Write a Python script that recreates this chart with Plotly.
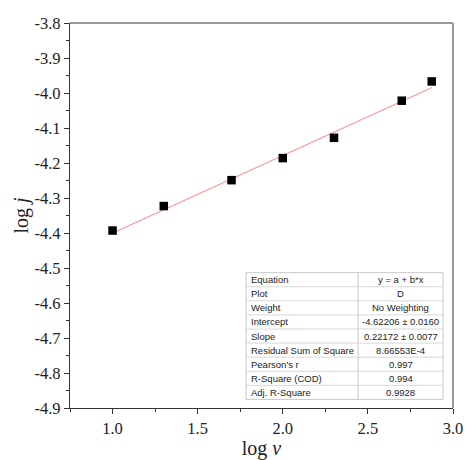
import plotly.graph_objects as go

log_v = [1.0, 1.301, 1.699, 2.0, 2.301, 2.699, 2.875]
log_j = [-4.393, -4.323, -4.249, -4.186, -4.128, -4.022, -3.967]

intercept = -4.62206
slope = 0.22172
fit_x = [1.0, 2.875]
fit_y = [intercept + slope * x for x in fit_x]

table_labels = ["Equation", "Plot", "Weight", "Intercept", "Slope",
                "Residual Sum of Square", "Pearson's r", "R-Square (COD)", "Adj. R-Square"]
table_values = ["y = a + b*x", "D", "No Weighting", "-4.62206 ± 0.0160", "0.22172 ± 0.0077",
                "8.66553E-4", "0.997", "0.994", "0.9928"]

x_ticks = [1.0, 1.5, 2.0, 2.5, 3.0]
y_ticks = [-3.8, -3.9, -4.0, -4.1, -4.2, -4.3, -4.4, -4.5, -4.6, -4.7, -4.8, -4.9]

# plot-area geometry in pixels (for paper coordinate conversion)
PL, PR, PT, PB = 70, 453, 23, 408.5
def px(x):
    return (x - PL) / (PR - PL)
def py(y):
    return (PB - y) / (PB - PT)

fig = go.Figure()
fig.add_trace(go.Scatter(x=fit_x, y=fit_y, mode="lines",
                         line=dict(color="rgb(255,130,130)", width=1), showlegend=False))
fig.add_trace(go.Scatter(x=log_v, y=log_j, mode="markers",
                         marker=dict(symbol="square", size=8.5, color="black"), showlegend=False))

# stats table drawn with shapes + annotations
T_L, T_D, T_R, T_T, ROW = 246, 358, 443, 273, 14.1
n = len(table_labels)
T_B = T_T + ROW * n
shapes = [
    dict(type="rect", xref="paper", yref="paper", x0=px(T_L), x1=px(T_R), y0=py(T_B), y1=py(T_T),
         fillcolor="white", line=dict(color="#c8c8c8", width=1), layer="above"),
    dict(type="line", xref="paper", yref="paper", x0=px(T_D), x1=px(T_D), y0=py(T_B), y1=py(T_T),
         line=dict(color="#c8c8c8", width=1), layer="above"),
]
for i in range(1, n):
    yy = py(T_T + ROW * i)
    shapes.append(dict(type="line", xref="paper", yref="paper", x0=px(T_L), x1=px(T_R), y0=yy, y1=yy,
                       line=dict(color="#d8d8d8", width=1), layer="above"))
shapes += [
    dict(type="line", xref="paper", yref="paper", x0=0, x1=1, y0=1, y1=1,
         line=dict(color="#999999", width=2)),
    dict(type="line", xref="paper", yref="paper", x0=1, x1=1, y0=0, y1=1,
         line=dict(color="#999999", width=2)),
]

tfont = dict(family="Liberation Sans, Arial", size=9.5, color="#222")
annotations = []
for i, (lab, val) in enumerate(zip(table_labels, table_values)):
    yc = py(T_T + ROW * (i + 0.5))
    annotations.append(dict(x=px(T_L + 3), y=yc, xref="paper", yref="paper", text=lab,
                            showarrow=False, xanchor="left", yanchor="middle", font=tfont))
    annotations.append(dict(x=px((T_D + T_R) / 2), y=yc, xref="paper", yref="paper", text=val,
                            showarrow=False, xanchor="center", yanchor="middle", font=tfont))

serif = "Liberation Serif"
axis_font = dict(family=serif, size=16.5, color="#222")
title_font = dict(family=serif, size=20, color="#222")
fig.update_layout(
    width=467, height=460,
    margin=dict(l=PL, r=467 - PR, t=PT, b=460 - PB),
    paper_bgcolor="white", plot_bgcolor="white",
    xaxis=dict(range=[0.75, 3.0], tickvals=x_ticks, ticktext=[f"{v:.1f}" for v in x_ticks],
               ticks="outside", ticklen=5, tickcolor="#333", showgrid=False, zeroline=False,
               showline=True, linecolor="#333", linewidth=1.2, tickfont=axis_font, automargin=False,
               minor=dict(dtick=0.25, tick0=0.75, ticks="outside", ticklen=3, tickcolor="#333"),
               title=dict(text="log <i>v</i>", font=title_font, standoff=0)),
    yaxis=dict(range=[-4.9, -3.8], tickvals=y_ticks, ticktext=[f"{v:.1f}" for v in y_ticks],
               ticks="outside", ticklen=5, tickcolor="#333", showgrid=False, zeroline=False,
               showline=True, linecolor="#333", linewidth=1.2, tickfont=axis_font, automargin=False,
               minor=dict(dtick=0.05, tick0=-3.8, ticks="outside", ticklen=3, tickcolor="#333"),
               title=dict(text="log <i>j</i>", font=title_font, standoff=0)),
    shapes=shapes,
    annotations=annotations,
)

fig.write_html("out.html")
